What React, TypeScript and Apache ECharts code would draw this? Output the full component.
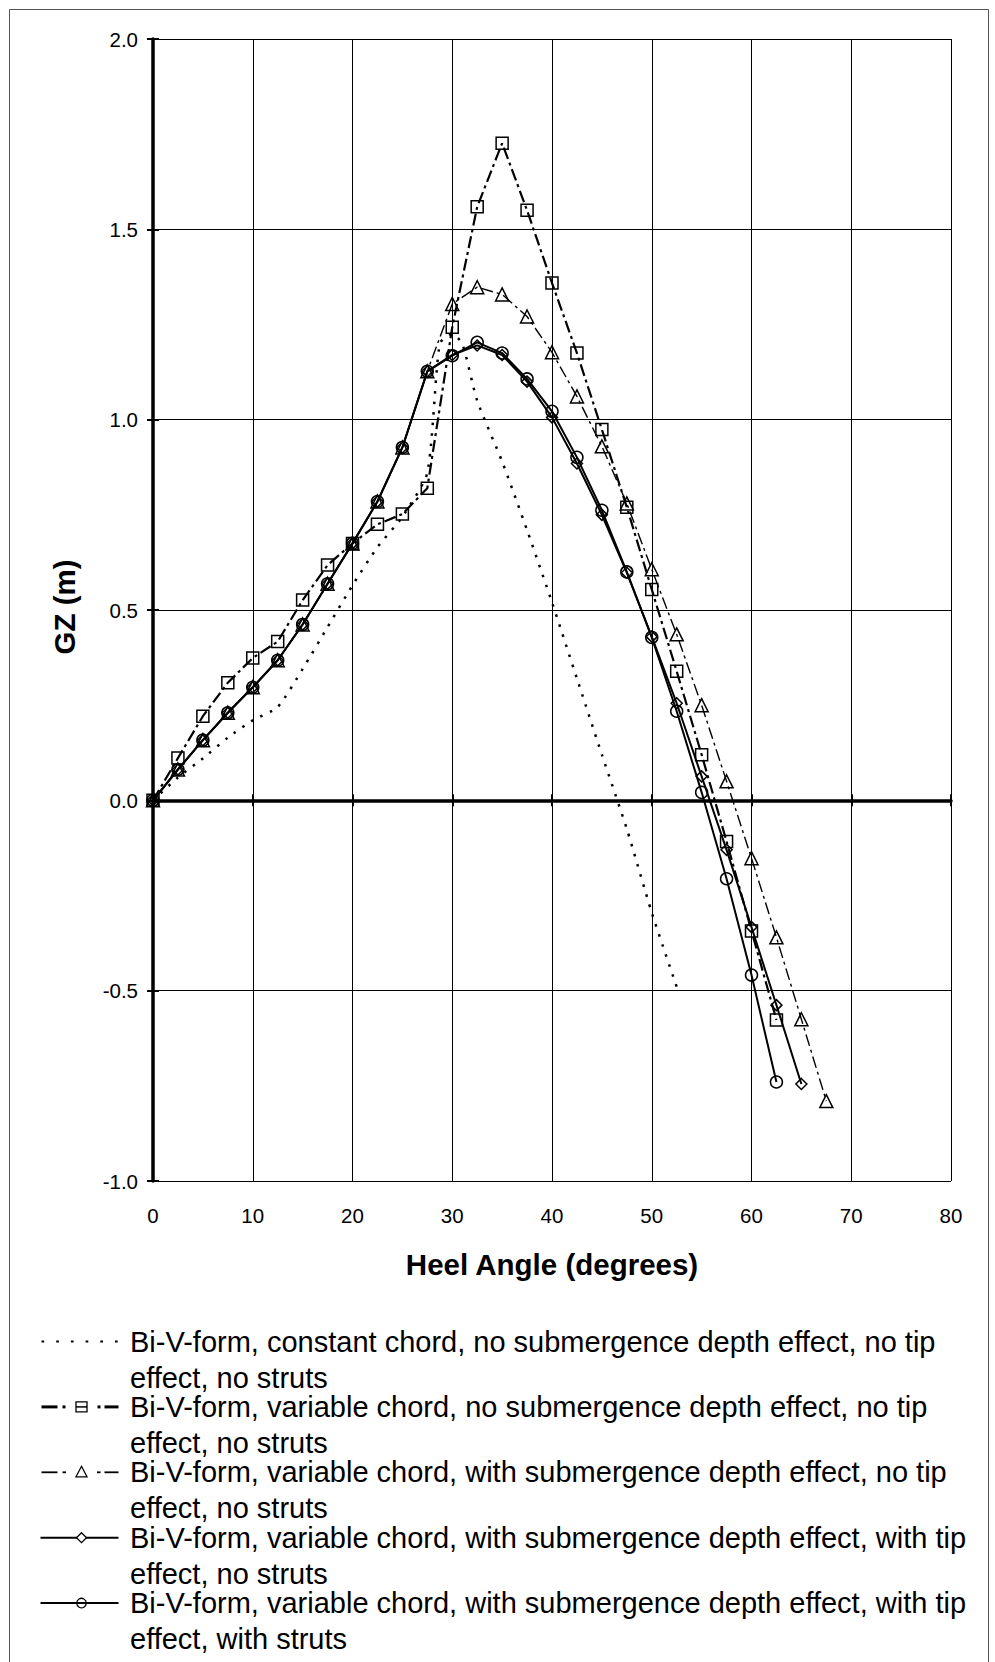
import React, { useEffect, useRef } from "react";
import * as echarts from "echarts";

// ---------- data ----------
const X_TICKS = [0, 10, 20, 30, 40, 50, 60, 70, 80];
const Y_TICKS = [-1.0, -0.5, 0.0, 0.5, 1.0, 1.5, 2.0];

const ANGLES = [
  0, 2.5, 5, 7.5, 10, 12.5, 15, 17.5, 20, 22.5, 25, 27.5, 30, 32.5, 35, 37.5,
  40, 42.5, 45, 47.5, 50, 52.5, 55, 57.5, 60, 62.5, 65, 67.5,
];

// Bi-V-form, constant chord (dotted, no markers)
const CONST_ANGLES = [
  0, 2.5, 5, 7.5, 10, 12.5, 15, 17.5, 20, 22.5, 25, 27.5, 28.75, 30, 31, 32.5,
  35, 37.5, 40, 42.5, 45, 47.5, 50, 52.5,
];
const GZ_CONST = [
  0, 0.06, 0.11, 0.165, 0.21, 0.245, 0.345, 0.455, 0.565, 0.665, 0.745, 0.86,
  1.2, 1.225, 1.2, 1.05, 0.89, 0.71, 0.52, 0.32, 0.12, -0.075, -0.295, -0.49,
];

// variable chord, no submergence depth effect (squares)
const GZ_VAR = [
  0, 0.111, 0.221, 0.309, 0.374, 0.417, 0.526, 0.618, 0.675, 0.725, 0.752,
  0.82, 1.243, 1.559, 1.726, 1.55, 1.359, 1.175, 0.974, 0.77, 0.554, 0.339,
  0.12, -0.108, -0.343, -0.577,
];

// variable chord, with submergence depth effect (triangles)
const GZ_VAR_DEPTH = [
  0, 0.081, 0.158, 0.23, 0.297, 0.368, 0.462, 0.569, 0.675, 0.785, 0.927,
  1.127, 1.304, 1.348, 1.329, 1.271, 1.177, 1.061, 0.93, 0.78, 0.607, 0.436,
  0.25, 0.05, -0.152, -0.36, -0.575, -0.79,
];

// variable chord, depth effect, tip effect (diamonds)
const GZ_VAR_DEPTH_TIP = [
  0, 0.081, 0.158, 0.23, 0.297, 0.368, 0.462, 0.569, 0.675, 0.785, 0.927,
  1.127, 1.17, 1.195, 1.17, 1.1, 1.006, 0.885, 0.75, 0.598, 0.43, 0.255,
  0.063, -0.13, -0.333, -0.538, -0.745,
];

// variable chord, depth effect, tip effect, with struts (circles)
const GZ_VAR_DEPTH_TIP_STRUTS = [
  0, 0.081, 0.158, 0.23, 0.297, 0.368, 0.462, 0.569, 0.675, 0.785, 0.927,
  1.127, 1.168, 1.203, 1.175, 1.107, 1.022, 0.901, 0.762, 0.6, 0.428, 0.234,
  0.021, -0.206, -0.459, -0.74,
];

const LEGEND_LINES = [
  ["Bi-V-form, constant chord, no submergence depth effect, no tip", "effect, no struts"],
  ["Bi-V-form, variable chord, no submergence depth effect, no tip", "effect, no struts"],
  ["Bi-V-form, variable chord, with submergence depth effect, no tip", "effect, no struts"],
  ["Bi-V-form, variable chord, with submergence depth effect, with tip", "effect, no struts"],
  ["Bi-V-form, variable chord, with submergence depth effect, with tip", "effect, with struts"],
];

const X_TITLE = "Heel Angle (degrees)";
const Y_TITLE = "GZ (m)";

// ---------- layout / style ----------
const FONT = "'Liberation Sans', Arial, sans-serif";
const GRID = { left: 153, top: 39, width: 798, height: 1142 };

function pairs(xs: number[], ys: number[]) {
  return ys.map((y, i) => [xs[i], y]);
}

const markerStyle = {
  color: "rgba(0,0,0,0)",
  borderColor: "#000",
  borderWidth: 1.5,
};

function buildLegend(): any[] {
  const els: any[] = [];
  const x0 = 41.5;
  const x1 = 118.5;
  const cx = 81.5;
  for (let i = 0; i < LEGEND_LINES.length; i++) {
    const y = 1341.5 + i * 65.4;
    const [l1, l2] = LEGEND_LINES[i];
    els.push({
      type: "text",
      x: 130,
      y,
      silent: true,
      style: {
        text: l1,
        x: 0,
        y: 0,
        fill: "#000",
        font: `29px ${FONT}`,
        textAlign: "left",
        align: "left",
        textVerticalAlign: "middle",
        verticalAlign: "middle",
      },
    });
    els.push({
      type: "text",
      x: 130,
      y: y + 36,
      silent: true,
      style: {
        text: l2,
        x: 0,
        y: 0,
        fill: "#000",
        font: `29px ${FONT}`,
        textAlign: "left",
        align: "left",
        textVerticalAlign: "middle",
        verticalAlign: "middle",
      },
    });
    const seg = (a: number, b: number, w: number) =>
      els.push({
        type: "line",
        silent: true,
        shape: { x1: a, y1: y, x2: b, y2: y },
        style: { stroke: "#000", lineWidth: w },
      });
    const ms = { fill: "none", stroke: "#000", lineWidth: 1.3 };
    if (i === 0) {
      els.push({
        type: "line",
        silent: true,
        shape: { x1: x0, y1: y, x2: x1, y2: y },
        style: { stroke: "#000", lineWidth: 2, lineDash: [2.7, 12] },
      });
    } else if (i === 1) {
      seg(x0, 57.5, 3);
      seg(62.5, 65.5, 3);
      seg(76, 87, 1.5);
      seg(97.5, 100.5, 3);
      seg(104.5, x1, 3);
      els.push({
        type: "rect",
        silent: true,
        shape: { x: cx - 5.5, y: y - 5, width: 11, height: 10 },
        style: ms,
      });
    } else if (i === 2) {
      seg(x0, 57.5, 1.8);
      seg(62.5, 66, 1.8);
      seg(97, 100.5, 1.8);
      seg(104.5, x1, 1.8);
      els.push({
        type: "polygon",
        silent: true,
        shape: { points: [[cx, y - 6], [cx + 5.5, y + 4.5], [cx - 5.5, y + 4.5]] },
        style: ms,
      });
    } else if (i === 3) {
      seg(x0 - 1, x1, 2);
      els.push({
        type: "polygon",
        silent: true,
        shape: { points: [[cx, y - 5], [cx + 5, y], [cx, y + 5], [cx - 5, y]] },
        style: { fill: "#fff", stroke: "#000", lineWidth: 1.3 },
      });
    } else {
      seg(x0 - 1, x1, 2);
      els.push({
        type: "circle",
        silent: true,
        shape: { cx, cy: y, r: 4.8 },
        style: ms,
      });
    }
  }
  return els;
}

export default function App() {
  const ref = useRef<HTMLDivElement>(null);

  useEffect(() => {
    document.body.style.margin = "0";
    document.body.style.overflow = "hidden";
    const chart = echarts.init(ref.current!, null, {
      renderer: "svg",
      width: 995,
      height: 1662,
    });

    const valueAxisCommon = {
      type: "value",
      min: X_TICKS[0],
      max: X_TICKS[X_TICKS.length - 1],
      interval: 10,
    };
    const yCommon = {
      type: "value",
      min: Y_TICKS[0],
      max: Y_TICKS[Y_TICKS.length - 1],
      interval: 0.5,
    };

    const option: any = {
      animation: false,
      backgroundColor: "#fff",
      grid: { ...GRID, containLabel: false },
      xAxis: [
        {
          ...valueAxisCommon,
          position: "bottom",
          axisLine: { show: false, onZero: false },
          axisTick: { show: false },
          axisLabel: {
            color: "#000",
            fontSize: 20.5,
            fontFamily: FONT,
            margin: 24,
          },
          splitLine: { show: true, lineStyle: { color: "#000", width: 1 } },
        },
        {
          ...valueAxisCommon,
          position: "bottom",
          axisLine: { show: true, onZero: true, lineStyle: { color: "#000", width: 3.5 } },
          axisTick: { show: true, length: 6, lineStyle: { color: "#000", width: 2 } },
          axisLabel: { show: false },
          splitLine: { show: false },
        },
        {
          ...valueAxisCommon,
          position: "bottom",
          axisLine: { show: false, onZero: true },
          axisTick: { show: true, inside: true, length: 6, lineStyle: { color: "#000", width: 2 } },
          axisLabel: { show: false },
          splitLine: { show: false },
        },
      ],
      yAxis: [
        {
          ...yCommon,
          position: "left",
          axisLine: { show: true, lineStyle: { color: "#000", width: 3.5 } },
          axisTick: { show: true, length: 6, lineStyle: { color: "#000", width: 2 } },
          axisLabel: {
            color: "#000",
            fontSize: 20.5,
            fontFamily: FONT,
            margin: 15,
            formatter: (v: number) => v.toFixed(1),
          },
          splitLine: { show: true, lineStyle: { color: "#000", width: 1 } },
        },
        {
          ...yCommon,
          position: "left",
          axisLine: { show: false },
          axisTick: { show: true, inside: true, length: 6, lineStyle: { color: "#000", width: 2 } },
          axisLabel: { show: false },
          splitLine: { show: false },
        },
      ],
      series: [
        {
          name: LEGEND_LINES[0].join(" "),
          type: "line",
          data: pairs(CONST_ANGLES, GZ_CONST),
          symbol: "none",
          smooth: 0.2,
          lineStyle: { color: "#000", width: 2.5, type: [2.5, 8] },
          z: 3,
        },
        {
          name: LEGEND_LINES[1].join(" "),
          type: "line",
          data: pairs(ANGLES, GZ_VAR),
          symbol: "rect",
          symbolSize: 12,
          showAllSymbol: true,
          lineStyle: { color: "#000", width: 2.2, type: [12, 4, 3, 4] },
          itemStyle: markerStyle,
          z: 4,
        },
        {
          name: LEGEND_LINES[2].join(" "),
          type: "line",
          data: pairs(ANGLES, GZ_VAR_DEPTH),
          symbol: "triangle",
          symbolSize: 13,
          showAllSymbol: true,
          lineStyle: { color: "#000", width: 1.4, type: [12, 4, 3, 4] },
          itemStyle: markerStyle,
          z: 5,
        },
        {
          name: LEGEND_LINES[3].join(" "),
          type: "line",
          data: pairs(ANGLES, GZ_VAR_DEPTH_TIP),
          symbol: "diamond",
          symbolSize: 11,
          showAllSymbol: true,
          lineStyle: { color: "#000", width: 2 },
          itemStyle: markerStyle,
          z: 6,
        },
        {
          name: LEGEND_LINES[4].join(" "),
          type: "line",
          data: pairs(ANGLES, GZ_VAR_DEPTH_TIP_STRUTS),
          symbol: "circle",
          symbolSize: 12,
          showAllSymbol: true,
          lineStyle: { color: "#000", width: 2 },
          itemStyle: markerStyle,
          z: 7,
        },
      ],
      graphic: [
        {
          type: "rect",
          silent: true,
          z: -10,
          shape: { x: 9.5, y: 9.5, width: 979, height: 1680 },
          style: { fill: "none", stroke: "#555", lineWidth: 1 },
        },
        {
          type: "text",
          x: 552,
          y: 1264,
          silent: true,
          style: {
            text: X_TITLE,
            x: 0,
            y: 0,
            fill: "#000",
            font: `bold 29.5px ${FONT}`,
            textAlign: "center",
            align: "center",
            textVerticalAlign: "middle",
            verticalAlign: "middle",
          },
        },
        {
          type: "text",
          x: 64,
          y: 607,
          rotation: Math.PI / 2,
          silent: true,
          style: {
            text: Y_TITLE,
            x: 0,
            y: 0,
            fill: "#000",
            font: `bold 29.5px ${FONT}`,
            textAlign: "center",
            align: "center",
            textVerticalAlign: "middle",
            verticalAlign: "middle",
          },
        },
        ...buildLegend(),
      ],
    };

    chart.setOption(option);
    return () => chart.dispose();
  }, []);

  return <div ref={ref} style={{ width: 995, height: 1662 }} />;
}
